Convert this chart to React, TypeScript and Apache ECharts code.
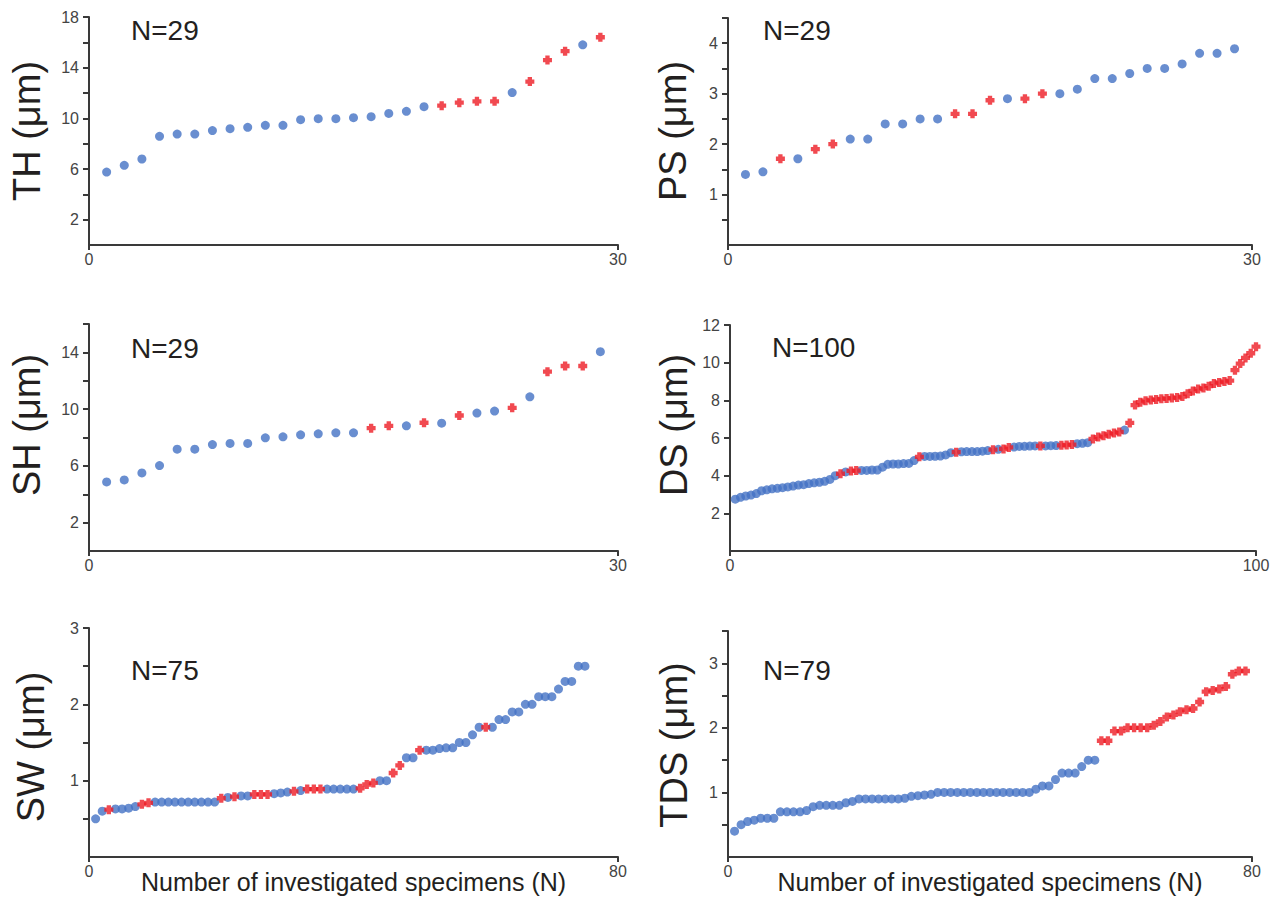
import React, { useEffect, useRef } from 'react';
import * as echarts from 'echarts';

// ---------- data (1-based specimen order) ----------
const thValues = [5.76, 6.29, 6.79, 8.58, 8.76, 8.76, 9.03, 9.18, 9.29, 9.45, 9.45, 9.89, 9.97, 9.97, 10.05, 10.13, 10.39, 10.55, 10.92, 11.0, 11.24, 11.34, 11.34, 12.03, 12.9, 14.6, 15.3, 15.8, 16.4];
const thRed = [20, 21, 22, 23, 25, 26, 27, 29];

const psValues = [1.4, 1.45, 1.71, 1.71, 1.9, 2.0, 2.1, 2.1, 2.4, 2.4, 2.5, 2.5, 2.6, 2.6, 2.87, 2.9, 2.9, 3.0, 3.0, 3.09, 3.3, 3.3, 3.4, 3.5, 3.5, 3.59, 3.8, 3.8, 3.89];
const psRed = [3, 5, 6, 13, 14, 15, 17, 18];

const shValues = [4.87, 5.01, 5.5, 6.02, 7.18, 7.18, 7.5, 7.58, 7.58, 7.98, 8.05, 8.19, 8.26, 8.33, 8.33, 8.66, 8.82, 8.82, 9.04, 9.01, 9.55, 9.72, 9.86, 10.09, 10.87, 12.64, 13.04, 13.04, 14.05];
const shRed = [16, 17, 19, 21, 24, 26, 27, 28];

const dsValues = [
  2.75, 2.85, 2.92, 2.97, 3.05, 3.2, 3.25, 3.3, 3.33, 3.36,
  3.4, 3.45, 3.5, 3.52, 3.58, 3.62, 3.65, 3.7, 3.8, 4.0,
  4.1, 4.2, 4.25, 4.27, 4.28, 4.28, 4.3, 4.3, 4.45, 4.6,
  4.62, 4.62, 4.64, 4.65, 4.8, 5.0, 5.02, 5.02, 5.03, 5.04,
  5.1, 5.22, 5.25, 5.27, 5.28, 5.28, 5.28, 5.3, 5.33, 5.38,
  5.4, 5.42, 5.5, 5.52, 5.55, 5.56, 5.57, 5.58, 5.58, 5.58,
  5.59, 5.6, 5.61, 5.63, 5.65, 5.7, 5.72, 5.75, 5.95, 6.05,
  6.12, 6.2, 6.26, 6.32, 6.42, 6.8, 7.75, 7.9, 7.98, 8.02,
  8.05, 8.08, 8.1, 8.12, 8.15, 8.2, 8.35, 8.5, 8.6, 8.65,
  8.75, 8.9, 8.95, 9.0, 9.05, 9.6, 9.95, 10.25, 10.5, 10.85,
];
const dsRed = [21, 23, 24, 36, 43, 50, 52, 53, 59, 63, 64, 65, 69, 70, 71, 72, 73, 74, 76, 77, 78, 79, 80, 81, 82, 83, 84, 85, 86, 87, 88, 89, 90, 91, 92, 93, 94, 95, 96, 97, 98, 99, 100];

const swValues = [
  0.5, 0.6, 0.62, 0.63, 0.63, 0.64, 0.66, 0.69, 0.71, 0.72,
  0.72, 0.72, 0.72, 0.72, 0.72, 0.72, 0.72, 0.72, 0.72, 0.77,
  0.78, 0.79, 0.8, 0.8, 0.82, 0.82, 0.82, 0.83, 0.84, 0.85,
  0.86, 0.87, 0.89, 0.89, 0.89, 0.89, 0.89, 0.89, 0.89, 0.89,
  0.9, 0.95, 0.97, 1.0, 1.0, 1.1, 1.2, 1.3, 1.3, 1.4,
  1.4, 1.4, 1.42, 1.43, 1.43, 1.5, 1.5, 1.6, 1.7, 1.7,
  1.7, 1.8, 1.8, 1.9, 1.9, 2.0, 2.0, 2.1, 2.1, 2.1,
  2.2, 2.3, 2.3, 2.5, 2.5,
];
const swRed = [3, 8, 9, 20, 22, 25, 26, 27, 31, 33, 34, 35, 41, 42, 43, 46, 47, 50, 60];

const tdsValues = [
  0.4, 0.5, 0.55, 0.57, 0.6, 0.6, 0.6, 0.7, 0.7, 0.7,
  0.7, 0.72, 0.78, 0.8, 0.8, 0.8, 0.8, 0.84, 0.86, 0.9,
  0.9, 0.9, 0.9, 0.9, 0.9, 0.9, 0.91, 0.94, 0.95, 0.96,
  0.97, 1.0, 1.0, 1.0, 1.0, 1.0, 1.0, 1.0, 1.0, 1.0,
  1.0, 1.0, 1.0, 1.0, 1.0, 1.0, 1.05, 1.1, 1.1, 1.2,
  1.3, 1.3, 1.3, 1.4, 1.5, 1.5, 1.8, 1.8, 1.95, 1.95,
  2.0, 2.0, 2.0, 2.0, 2.04, 2.1, 2.17, 2.2, 2.25, 2.28,
  2.3, 2.4, 2.56, 2.58, 2.6, 2.64, 2.83, 2.88, 2.88,
];
const tdsRed = [57, 58, 59, 60, 61, 62, 63, 64, 65, 66, 67, 68, 69, 70, 71, 72, 73, 74, 75, 76, 77, 78, 79];

// tick positions / labelled ticks
const thTicks = [2, 4, 6, 8, 10, 12, 14, 16, 18];
const thLabels = [2, 6, 10, 14, 18];
const psTicks = [0.5, 1, 1.5, 2, 2.5, 3, 3.5, 4, 4.5];
const psLabels = [1, 2, 3, 4];
const shTicks = [2, 4, 6, 8, 10, 12, 14, 16];
const shLabels = [2, 6, 10, 14];
const dsTicks = [2, 4, 6, 8, 10, 12];
const dsLabels = [2, 4, 6, 8, 10, 12];
const swTicks = [0.5, 1, 1.5, 2, 2.5, 3];
const swLabels = [1, 2, 3];
const tdsTicks = [0.5, 1, 1.5, 2, 2.5, 3, 3.5];
const tdsLabels = [1, 2, 3];

const xAxisName = 'Number of investigated specimens (N)';

// ---------- styling ----------
const BLUE = '#4472c4';
const RED = '#ee1c24';
const AXIS = '#3a3a3a';
const TEXT = '#231f20';
const LABEL = '#444444';
const FONT = "'Liberation Sans', Arial, Helvetica, sans-serif";
const PLUS = 'path://M2.6,0H7.4V2.6H10V7.4H7.4V10H2.6V7.4H0V2.6H2.6Z';

const panels = [
  { title: 'TH (μm)', n: 'N=29', values: thValues, red: thRed, xMax: 30, yMax: 18, ticks: thTicks, labels: thLabels,
    grid: { left: 89, top: 17, width: 529, height: 228 }, nPos: [131, 30], namePos: [27, 131], bottom: false },
  { title: 'PS (μm)', n: 'N=29', values: psValues, red: psRed, xMax: 30, yMax: 4.5, ticks: psTicks, labels: psLabels,
    grid: { left: 728, top: 18, width: 524, height: 227 }, nPos: [763, 30], namePos: [673, 131], bottom: false },
  { title: 'SH (μm)', n: 'N=29', values: shValues, red: shRed, xMax: 30, yMax: 16, ticks: shTicks, labels: shLabels,
    grid: { left: 89, top: 324, width: 529, height: 227 }, nPos: [131, 348], namePos: [27, 425], bottom: false },
  { title: 'DS (μm)', n: 'N=100', values: dsValues, red: dsRed, xMax: 100, yMax: 12, ticks: dsTicks, labels: dsLabels,
    grid: { left: 730, top: 325, width: 526, height: 226 }, nPos: [772, 347], namePos: [674, 425], bottom: false },
  { title: 'SW (μm)', n: 'N=75', values: swValues, red: swRed, xMax: 80, yMax: 3, ticks: swTicks, labels: swLabels,
    grid: { left: 89, top: 628, width: 529, height: 229 }, nPos: [131, 670], namePos: [31, 747], bottom: true },
  { title: 'TDS (μm)', n: 'N=79', values: tdsValues, red: tdsRed, xMax: 80, yMax: 3.5, ticks: tdsTicks, labels: tdsLabels,
    grid: { left: 728, top: 631, width: 524, height: 226 }, nPos: [763, 670], namePos: [674, 745], bottom: true },
];

function buildOption() {
  const grid: any[] = [];
  const xAxis: any[] = [];
  const yAxis: any[] = [];
  const series: any[] = [];
  const graphic: any[] = [];

  panels.forEach((p, i) => {
    grid.push({ ...p.grid });
    xAxis.push({
      type: 'value', gridIndex: i, min: 0, max: p.xMax, interval: p.xMax,
      axisLine: { show: true, onZero: false, lineStyle: { color: AXIS, width: 2 } },
      axisTick: { show: true, length: 5, lineStyle: { color: AXIS, width: 2 } },
      axisLabel: { show: true, margin: 6, color: LABEL, fontSize: 16, fontFamily: FONT },
      splitLine: { show: false },
    });
    yAxis.push({
      type: 'value', gridIndex: i, min: 0, max: p.yMax,
      axisLine: { show: true, onZero: false, lineStyle: { color: AXIS, width: 2 } },
      axisTick: { show: true, length: 6, customValues: p.ticks, lineStyle: { color: AXIS, width: 2 } },
      axisLabel: { show: true, margin: 10, customValues: p.labels, color: LABEL, fontSize: 16, fontFamily: FONT },
      splitLine: { show: false },
    });
    const blueData: number[][] = [];
    const redData: number[][] = [];
    p.values.forEach((v, k) => {
      const idx = k + 1;
      if (p.red.indexOf(idx) >= 0) redData.push([idx, v]);
      else blueData.push([idx, v]);
    });
    series.push({
      type: 'scatter', xAxisIndex: i, yAxisIndex: i, data: blueData,
      symbol: 'circle', symbolSize: 9, itemStyle: { color: BLUE }, silent: true,
    });
    series.push({
      type: 'scatter', xAxisIndex: i, yAxisIndex: i, data: redData,
      symbol: PLUS, symbolSize: 9, itemStyle: { color: RED }, silent: true,
    });
    graphic.push({
      type: 'text', x: p.nPos[0], y: p.nPos[1],
      style: { text: p.n, font: `28px ${FONT}`, fill: TEXT, textAlign: 'left', textVerticalAlign: 'middle' },
    });
    graphic.push({
      type: 'text', x: p.namePos[0], y: p.namePos[1], rotation: Math.PI / 2,
      style: { text: p.title, font: `38px ${FONT}`, fill: TEXT, textAlign: 'center', textVerticalAlign: 'middle' },
    });
    if (p.bottom) {
      graphic.push({
        type: 'text', x: p.grid.left + p.grid.width / 2, y: 882,
        style: { text: xAxisName, font: `25px ${FONT}`, fill: TEXT, textAlign: 'center', textVerticalAlign: 'middle' },
      });
    }
  });

  return { animation: false, backgroundColor: '#ffffff', grid, xAxis, yAxis, series, graphic };
}

export default function App() {
  const ref = useRef<HTMLDivElement>(null);
  useEffect(() => {
    if (!ref.current) return;
    const chart = echarts.init(ref.current, null, { renderer: 'svg' });
    chart.setOption(buildOption() as any);
    return () => chart.dispose();
  }, []);
  return (
    <div
      ref={ref}
      style={{ position: 'absolute', left: 0, top: 0, width: 1286, height: 897, background: '#fff' }}
    />
  );
}
